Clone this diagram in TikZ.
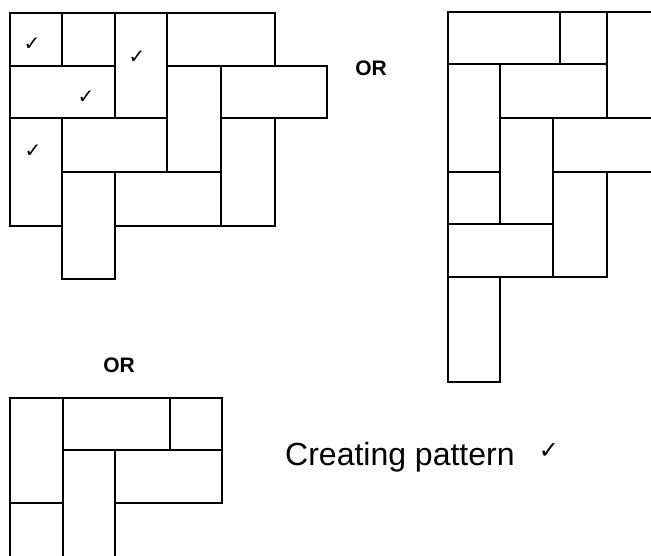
\documentclass[tikz,border=0pt]{standalone}
\usepackage{fontspec}
\setmainfont{Liberation Sans}
\newfontfamily\tickfont{DejaVu Sans}
\newcommand{\tick}{{\tickfont ✓}}

\begin{document}
\begin{tikzpicture}[x=1pt, y=-1pt,
    tile/.style={draw, line width=2pt},
    tickmark/.style={font=\fontsize{20}{20}\selectfont, inner sep=0pt},
    ortext/.style={font=\fontsize{21}{21}\selectfont\bfseries, anchor=base, inner sep=0pt}]
    \clip (0, 0) rectangle (651, 556);

    % first pattern
    \draw[tile] (10, 13) rectangle (62, 66);
    \draw[tile] (62, 13) rectangle (115, 66);
    \draw[tile] (115, 13) rectangle (167, 118);
    \draw[tile] (167, 13) rectangle (275, 66);
    \draw[tile] (10, 66) rectangle (115, 118);
    \draw[tile] (167, 66) rectangle (221, 172);
    \draw[tile] (221, 66) rectangle (327, 118);
    \draw[tile] (10, 118) rectangle (62, 226);
    \draw[tile] (62, 118) rectangle (167, 172);
    \draw[tile] (221, 118) rectangle (275, 226);
    \draw[tile] (62, 172) rectangle (115, 279);
    \draw[tile] (115, 172) rectangle (221, 226);

    \node[tickmark] (t1) at (32, 44) {\tick};
    \node[tickmark] (t2) at (137, 57) {\tick};
    \node[tickmark] (t3) at (86, 97) {\tick};
    \node[tickmark] (t4) at (33, 151) {\tick};

    \node[ortext] (or1) at (371, 76) {OR};

    % second pattern
    \draw[tile] (448, 12) rectangle (560, 64);
    \draw[tile] (560, 12) rectangle (607, 64);
    \draw[tile] (607, 12) rectangle (670, 118);
    \draw[tile] (448, 64) rectangle (500, 172);
    \draw[tile] (500, 64) rectangle (607, 118);
    \draw[tile] (500, 118) rectangle (553, 224);
    \draw[tile] (553, 118) rectangle (670, 172);
    \draw[tile] (448, 172) rectangle (500, 224);
    \draw[tile] (553, 172) rectangle (607, 277);
    \draw[tile] (448, 224) rectangle (553, 277);
    \draw[tile] (448, 277) rectangle (500, 382);

    \node[ortext] (or2) at (119, 372) {OR};

    % third pattern
    \draw[tile] (10, 398) rectangle (63, 503);
    \draw[tile] (63, 398) rectangle (170, 450);
    \draw[tile] (170, 398) rectangle (222, 450);
    \draw[tile] (63, 450) rectangle (115, 575);
    \draw[tile] (115, 450) rectangle (222, 503);
    \draw[tile] (10, 503) rectangle (63, 575);

    \node[anchor=base west, inner sep=0pt, font=\fontsize{32}{32}\selectfont] (label) at (285, 465) {Creating pattern};
    \node[tickmark, font=\fontsize{24}{24}\selectfont] (t5) at (549, 451) {\tick};
\end{tikzpicture}
\end{document}
